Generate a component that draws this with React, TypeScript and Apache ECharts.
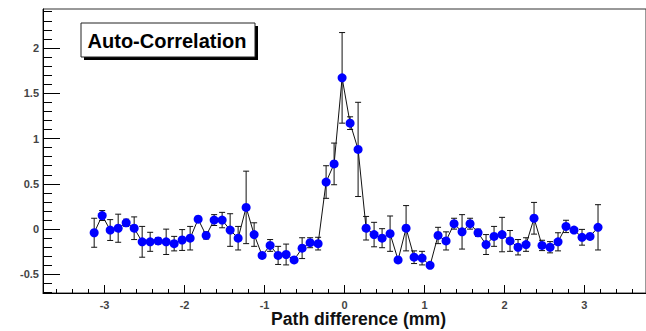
import React, { useEffect, useRef } from "react";
import * as echarts from "echarts";

// Path difference (mm) of each measured point
const pathDiff = [
  -3.13, -3.03, -2.93, -2.83, -2.73, -2.63, -2.53, -2.43, -2.33, -2.23,
  -2.13, -2.03, -1.93, -1.83, -1.73, -1.63, -1.53, -1.43, -1.33, -1.23,
  -1.13, -1.03, -0.93, -0.83, -0.73, -0.63, -0.53, -0.43, -0.33, -0.23,
  -0.13, -0.03, 0.07, 0.17, 0.27, 0.37, 0.47, 0.57, 0.67, 0.77,
  0.87, 0.97, 1.07, 1.17, 1.27, 1.37, 1.47, 1.57, 1.67, 1.77,
  1.87, 1.97, 2.07, 2.17, 2.27, 2.37, 2.47, 2.57, 2.67, 2.77,
  2.87, 2.97, 3.07, 3.17,
];

// Auto-correlation value
const correlation = [
  -0.04, 0.15, -0.01, 0.01, 0.07, 0.01, -0.14, -0.14, -0.13, -0.14,
  -0.16, -0.12, -0.1, 0.11, -0.07, 0.1, 0.1, -0.01, -0.1, 0.24,
  -0.06, -0.29, -0.18, -0.29, -0.28, -0.34, -0.21, -0.15, -0.16, 0.52,
  0.72, 1.67, 1.17, 0.88, 0.01, -0.06, -0.1, -0.05, -0.34, 0.01,
  -0.31, -0.32, -0.4, -0.07, -0.13, 0.06, -0.03, 0.06, -0.04, -0.17,
  -0.08, -0.06, -0.13, -0.2, -0.17, 0.12, -0.18, -0.2, -0.14, 0.03,
  -0.01, -0.09, -0.08, 0.02,
];

// Symmetric error of each point
const errors = [
  0.16, 0.055, 0.115, 0.155, 0.04, 0.125, 0.17, 0.105, 0.035, 0.14,
  0.08, 0.115, 0.13, 0.02, 0.04, 0.06, 0.085, 0.18, 0.13, 0.4,
  0.13, 0.02, 0.065, 0.1, 0.115, 0.02, 0.115, 0.055, 0.07, 0.18,
  0.23, 0.5, 0.07, 0.52, 0.13, 0.135, 0.105, 0.195, 0.02, 0.25,
  0.07, 0.075, 0.02, 0.09, 0.1, 0.06, 0.19, 0.06, 0.04, 0.11,
  0.11, 0.19, 0.115, 0.085, 0.075, 0.175, 0.057, 0.062, 0.1, 0.068,
  0.02, 0.087, 0.02, 0.25,
];

const xTickLabels = [-3, -2, -1, 0, 1, 2, 3];
const yTickLabels = [-0.5, 0, 0.5, 1, 1.5, 2];

const X_MIN = -3.77;
const X_MAX = 3.77;
const Y_MIN = -0.705;
const Y_MAX = 2.43;

const FONT = "'Liberation Sans', Arial, sans-serif";

function minorTicks(from: number, to: number, step: number): number[] {
  const out: number[] = [];
  const n = Math.round((to - from) / step);
  for (let i = 0; i <= n; i++) out.push(Math.round((from + i * step) * 100) / 100);
  return out;
}

export default function App() {
  const ref = useRef<HTMLDivElement>(null);

  useEffect(() => {
    if (!ref.current) return;
    const chart = echarts.init(ref.current, undefined, { renderer: "svg" });

    const lineData = pathDiff.map((x, i) => [x, correlation[i]]);
    const errData = pathDiff.map((x, i) => [x, correlation[i] - errors[i], correlation[i] + errors[i]]);

    const xMinor = minorTicks(-3.6, 3.6, 0.2);
    const yMinor = minorTicks(-0.7, 2.4, 0.1);

    const hidden = { show: false };
    const hiddenLine = { show: false, onZero: false };

    chart.setOption({
      animation: false,
      backgroundColor: "#ffffff",
      grid: {
        left: 43,
        top: 9,
        width: 607,
        height: 284,
        show: true,
        borderColor: "#333",
        borderWidth: 1,
        backgroundColor: "transparent",
      },
      xAxis: [
        {
          type: "value",
          min: X_MIN,
          max: X_MAX,
          position: "bottom",
          axisLine: { show: true, onZero: false, lineStyle: { color: "#000", width: 1 } },
          axisTick: { show: true, inside: true, length: 8, customValues: xTickLabels, lineStyle: { color: "#000" } },
          axisLabel: {
            show: true,
            customValues: xTickLabels,
            margin: 6,
            color: "#444",
            fontSize: 11,
            fontWeight: "bold",
            fontFamily: FONT,
          },
          splitLine: hidden,
        },
        {
          type: "value",
          min: X_MIN,
          max: X_MAX,
          position: "bottom",
          axisLine: hiddenLine,
          axisTick: { show: true, inside: true, length: 4, customValues: xMinor, lineStyle: { color: "#000" } },
          axisLabel: hidden,
          splitLine: hidden,
        },
      ],
      yAxis: [
        {
          type: "value",
          min: Y_MIN,
          max: Y_MAX,
          position: "left",
          axisLine: { show: true, onZero: false, lineStyle: { color: "#000", width: 1 } },
          axisTick: { show: true, inside: true, length: 17, customValues: yTickLabels, lineStyle: { color: "#000" } },
          axisLabel: {
            show: true,
            customValues: yTickLabels,
            margin: 4,
            color: "#444",
            fontSize: 11,
            fontWeight: "bold",
            fontFamily: FONT,
          },
          splitLine: hidden,
        },
        {
          type: "value",
          min: Y_MIN,
          max: Y_MAX,
          position: "left",
          axisLine: hiddenLine,
          axisTick: { show: true, inside: true, length: 9, customValues: yMinor, lineStyle: { color: "#000" } },
          axisLabel: hidden,
          splitLine: hidden,
        },
      ],
      series: [
        {
          type: "custom",
          xAxisIndex: 0,
          yAxisIndex: 0,
          z: 1,
          encode: { x: 0, y: [1, 2] },
          data: errData,
          renderItem: (params: any, api: any) => {
            const x = api.value(0);
            const lo = api.coord([x, api.value(1)]);
            const hi = api.coord([x, api.value(2)]);
            const cap = 3;
            const style = { stroke: "#111", lineWidth: 1 };
            return {
              type: "group",
              children: [
                { type: "line", shape: { x1: hi[0], y1: hi[1], x2: lo[0], y2: lo[1] }, style },
                { type: "line", shape: { x1: hi[0] - cap, y1: hi[1], x2: hi[0] + cap, y2: hi[1] }, style },
                { type: "line", shape: { x1: lo[0] - cap, y1: lo[1], x2: lo[0] + cap, y2: lo[1] }, style },
              ],
            };
          },
        },
        {
          type: "line",
          xAxisIndex: 0,
          yAxisIndex: 0,
          z: 2,
          data: lineData,
          symbol: "circle",
          symbolSize: 9,
          showSymbol: true,
          lineStyle: { color: "#111", width: 1 },
          itemStyle: { color: "#0000ff", borderWidth: 0 },
          emphasis: { disabled: true },
        },
      ],
      graphic: [
        { type: "rect", shape: { x: 84, y: 26, width: 174, height: 34 }, style: { fill: "#000" }, z: 10 },
        {
          type: "rect",
          shape: { x: 81, y: 23, width: 174, height: 34 },
          style: { fill: "#fff", stroke: "#222", lineWidth: 1 },
          z: 11,
        },
        {
          type: "text",
          x: 167,
          y: 41,
          z: 12,
          style: {
            text: "Auto-Correlation",
            fill: "#000",
            font: `bold 20px ${FONT}`,
            textAlign: "center",
            textVerticalAlign: "middle",
          },
        },
        {
          type: "text",
          x: 271,
          y: 319,
          z: 12,
          style: {
            text: "Path difference (mm)",
            fill: "#111",
            font: `bold 17.6px ${FONT}`,
            textAlign: "left",
            textVerticalAlign: "middle",
          },
        },
      ],
    });

    return () => chart.dispose();
  }, []);

  return (
    <div
      ref={ref}
      style={{ position: "absolute", left: 0, top: 0, width: 646, height: 331, background: "#fff" }}
    />
  );
}
